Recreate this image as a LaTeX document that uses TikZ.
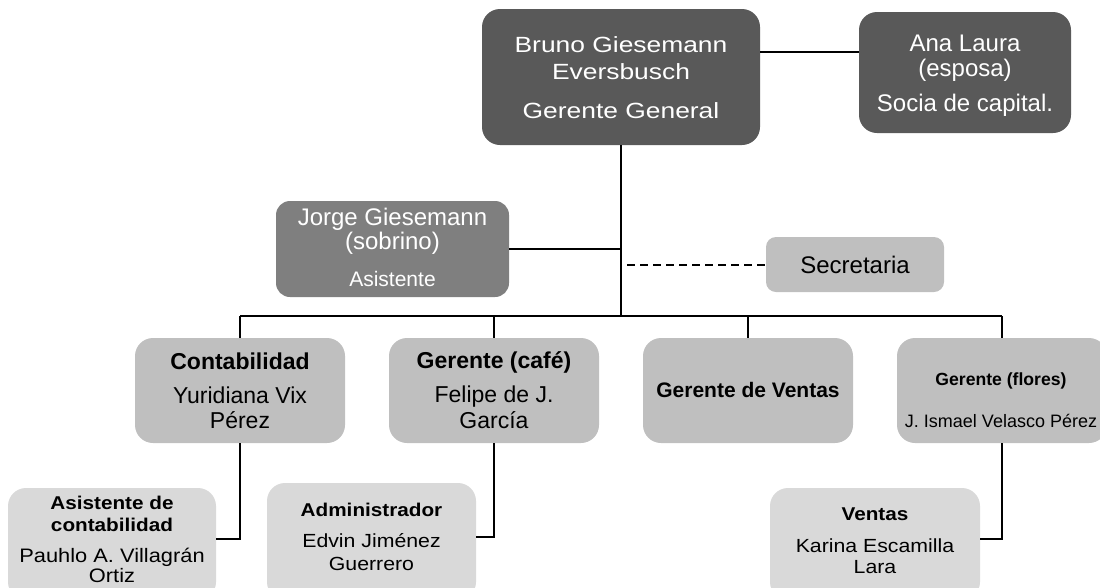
\documentclass[tikz,border=0pt]{standalone}
\usepackage{fontspec}
\setmainfont{Liberation Sans}
\newfontfamily\widesans{Liberation Sans}[FakeStretch=1.2]
\newfontfamily\midsans{Liberation Sans}[FakeStretch=1.12]
\newcommand\setfs[1]{\fontsize{#1}{#1}\selectfont}
\definecolor{boxdark}{HTML}{595959}
\definecolor{boxmid}{HTML}{7F7F7F}
\definecolor{boxlight}{HTML}{BFBFBF}
\definecolor{boxpale}{HTML}{D9D9D9}
\begin{document}
\begin{tikzpicture}[x=1pt,y=-1pt,
  orgbox/.style={rectangle, rounded corners=18pt, draw=none, inner sep=0pt, outer sep=0pt},
  topbox/.style={orgbox, fill=boxdark},
  helperbox/.style={orgbox, fill=boxmid, rounded corners=14pt},
  deptbox/.style={orgbox, fill=boxlight},
  staffbox/.style={orgbox, fill=boxpale},
  lbl/.style={anchor=base, inner sep=0pt, outer sep=0pt},
  wlbl/.style={lbl, text=white},
  link/.style={draw=black, line width=1.8pt},
  dottedlink/.style={link, dash pattern=on 8pt off 5pt}]
\clip (0,0) rectangle (1100,587);

% boxes
\node[topbox, minimum width=278pt, minimum height=136pt] (gg) at (621,77) {};
\node[topbox, minimum width=212pt, minimum height=121pt] (ana) at (965,72.5) {};
\node[helperbox, minimum width=233pt, minimum height=96pt] (jorge) at (392.5,249) {};
\node[deptbox, rounded corners=10pt, minimum width=178pt, minimum height=55pt] (sec) at (855,264.5) {};
\node[deptbox, minimum width=210pt, minimum height=105pt] (cont) at (240,390.5) {};
\node[deptbox, minimum width=210pt, minimum height=105pt] (cafe) at (494,390.5) {};
\node[deptbox, minimum width=210pt, minimum height=105pt] (vent) at (748,390.5) {};
\node[deptbox, minimum width=210pt, minimum height=105pt] (flor) at (1002,390.5) {};
\node[staffbox, minimum width=208pt, minimum height=112pt] (asis) at (112,544) {};
\node[staffbox, minimum width=209pt, minimum height=117pt] (adm) at (371.5,541.5) {};
\node[staffbox, minimum width=210pt, minimum height=112pt] (ven3) at (875,544) {};

% texts
\node[wlbl] (gg-a) at (621,52.7) {\widesans\setfs{22}Bruno Giesemann};
\node[wlbl] (gg-b) at (621,79.5) {\widesans\setfs{22}Eversbusch};
\node[wlbl] (gg-c) at (621,118.3) {\widesans\setfs{22}Gerente General};

\node[wlbl] (ana-a) at (965,51) {\setfs{24}Ana Laura};
\node[wlbl] (ana-b) at (965,76.5) {\setfs{24}(esposa)};
\node[wlbl] (ana-c) at (965,111) {\setfs{24}Socia de capital.};

\node[wlbl] (jorge-a) at (392.5,225) {\setfs{24}Jorge Giesemann};
\node[wlbl] (jorge-b) at (392.5,249.5) {\setfs{24}(sobrino)};
\node[wlbl] (jorge-c) at (392.5,286.5) {\setfs{21}Asistente};

\node[lbl] (sec-a) at (855,273) {\setfs{24}Secretaria};

\node[lbl] (cont-a) at (240,369) {\setfs{23}\bfseries Contabilidad};
\node[lbl] (cont-b) at (240,403) {\setfs{23}Yuridiana Vix};
\node[lbl] (cont-c) at (240,428) {\setfs{23}Pérez};

\node[lbl] (cafe-a) at (494,368) {\setfs{23}\bfseries Gerente (café)};
\node[lbl] (cafe-b) at (494,402) {\setfs{23}Felipe de J.};
\node[lbl] (cafe-c) at (494,428) {\setfs{23}García};

\node[lbl] (vent-a) at (748,397) {\setfs{21}\bfseries Gerente de Ventas};

\node[lbl] (flor-a) at (1001,385) {\setfs{17.6}\bfseries Gerente (flores)};
\node[lbl] (flor-b) at (1001,427) {\setfs{18}J. Ismael Velasco Pérez};

\node[lbl] (asis-a) at (112,509) {\midsans\setfs{18.5}\bfseries Asistente de};
\node[lbl] (asis-b) at (112,531) {\midsans\setfs{18.5}\bfseries contabilidad};
\node[lbl] (asis-c) at (112,562) {\midsans\setfs{19.5}Pauhlo A. Villagrán};
\node[lbl] (asis-d) at (112,582) {\midsans\setfs{19.5}Ortiz};

\node[lbl] (adm-a) at (371.5,516) {\midsans\setfs{18.5}\bfseries Administrador};
\node[lbl] (adm-b) at (371.5,547.5) {\midsans\setfs{19}Edvin Jiménez};
\node[lbl] (adm-c) at (371.5,570) {\midsans\setfs{19}Guerrero};

\node[lbl] (ven3-a) at (875,520) {\midsans\setfs{18.5}\bfseries Ventas};
\node[lbl] (ven3-b) at (875,552) {\midsans\setfs{19}Karina Escamilla};
\node[lbl] (ven3-c) at (875,573) {\midsans\setfs{19}Lara};

% connectors
\coordinate (hub) at (621,316);
\draw[link] (gg.east |- 0,52) -- (ana.west |- 0,52);
\draw[link] (gg.south) -- (hub);
\draw[link] (jorge.east) -- (jorge.east -| gg.south);
\coordinate (secstart) at (627,265);
\draw[dottedlink] (secstart) -- (sec.west |- secstart);
\draw[link] (cont.north |- hub) -- (flor.north |- hub);
\draw[link] (cont.north |- hub) -- (cont.north);
\draw[link] (cafe.north |- hub) -- (cafe.north);
\draw[link] (vent.north |- hub) -- (vent.north);
\draw[link] (flor.north |- hub) -- (flor.north);
\draw[link] (cont.south) |- ([yshift=5pt]asis.east);
\draw[link] (cafe.south) |- ([yshift=4.5pt]adm.east);
\draw[link] (flor.south) |- ([yshift=5pt]ven3.east);
\end{tikzpicture}
\end{document}
